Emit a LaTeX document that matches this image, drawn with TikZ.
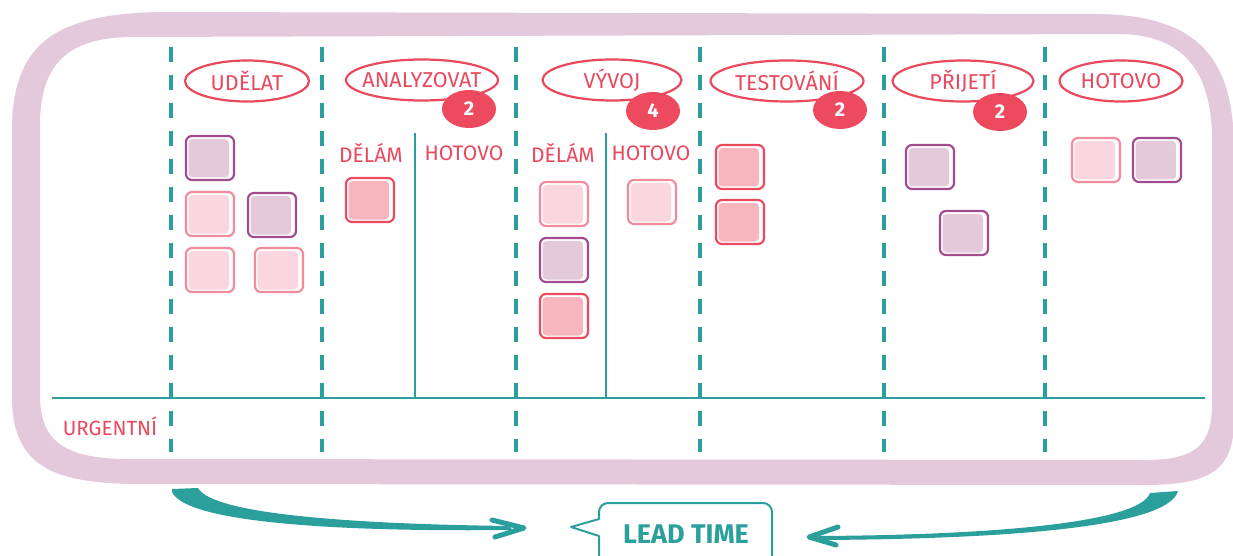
\documentclass[tikz,border=0pt]{standalone}
\usepackage{fontspec}
\setmainfont{Fira Sans}
\usetikzlibrary{shapes.geometric}

\definecolor{tealc}{HTML}{2A9F9C}
\definecolor{redc}{HTML}{E9485D}
\definecolor{badgec}{HTML}{EE4A5F}
\definecolor{lilac}{HTML}{E4C9DD}
\definecolor{purpleline}{HTML}{A24C8E}
\definecolor{purplefill}{HTML}{E4C9DB}
\definecolor{pinkline}{HTML}{F28B9B}
\definecolor{pinkfill}{HTML}{FAD7DE}
\definecolor{redline}{HTML}{EE4A5F}
\definecolor{redfill}{HTML}{F7B5BD}

\tikzset{
  lane/.style={draw=tealc, line width=3.5pt, dash pattern=on 15pt off 13pt},
  divider/.style={draw=tealc, line width=2.2pt},
  stage/.style={ellipse, draw=redc, line width=2.2pt, text=redc,
    font=\fontsize{21.5}{23}\selectfont, inner xsep=-30pt, inner ysep=0pt,
    minimum height=41pt},
  badge/.style={ellipse, fill=badgec, text=white, inner sep=0pt,
    minimum width=54pt, minimum height=38pt, font=\bfseries\fontsize{20}{22}\selectfont},
  sublabel/.style={text=redc, font=\fontsize{21}{23}\selectfont, inner sep=0pt},
  cardbase/.style={rectangle, rounded corners=6pt, minimum width=48pt,
    minimum height=44pt, line width=2.2pt, fill=white, inner sep=0pt},
  cardfill/.style={path picture={\fill[#1, rounded corners=4pt]
    ([shift={(2.5pt,2.5pt)}]path picture bounding box.south west) rectangle
    ([shift={(-5pt,-3pt)}]path picture bounding box.north east);}},
  cardpurple/.style={cardbase, draw=purpleline, cardfill=purplefill},
  cardpink/.style={cardbase, draw=pinkline, cardfill=pinkfill},
  cardred/.style={cardbase, draw=redline, cardfill=redfill},
  brush/.style={fill=tealc},
  chevron/.style={draw=tealc, line width=5pt, line cap=round, line join=round},
}

\begin{document}
\begin{tikzpicture}[x=1pt,y=-1pt]
\useasboundingbox (0,0) rectangle (1233,556);
\clip (0,0) rectangle (1233,556);

% the board's soft lilac frame
\fill[lilac, even odd rule]
  (12,250) -- (12,130) .. controls (12,40) and (60,14) .. (160,12)
  -- (1100,14) .. controls (1200,16) and (1234,60) .. (1234,150)
  -- (1234,420) .. controls (1234,470) and (1210,484) .. (1150,485)
  -- (130,484) .. controls (60,482) and (13,470) .. (12,400) -- cycle
  (40,250) -- (40,125) .. controls (40,62) and (70,38) .. (130,37)
  -- (1120,34) .. controls (1182,35) and (1212,70) .. (1212,140)
  -- (1212,405) .. controls (1212,445) and (1195,459) .. (1150,460)
  -- (120,459) .. controls (70,457) and (42,445) .. (40,400) -- cycle;

% column separators
\foreach \x in {171,322,516,700,884,1045}
  \draw[lane] (\x,47) -- (\x,452);

% urgent lane and sub-column dividers
\draw[divider] (52,398) -- (1205,398);
\draw[divider] (415,133) -- (415,398);
\draw[divider] (606,133) -- (606,398);

% stage headers
\node[stage, minimum width=124pt] (udelat) at (247,81) {UDĚLAT};
\node[stage, minimum width=152pt] (analyzovat) at (422,80) {ANALYZOVAT};
\node[stage, minimum width=139pt] (vyvoj) at (612,80) {VÝVOJ};
\node[stage, minimum width=153pt] (testovani) at (787,81) {TESTOVÁNÍ};
\node[stage, minimum width=141pt] (prijeti) at (963,81) {PŘIJETÍ};
\node[stage, minimum width=123pt] (hotovo) at (1121,81) {HOTOVO};

% WIP limits
\node[badge] (limA) at (469,109) {2};
\node[badge] (limV) at (653,111) {4};
\node[badge] (limT) at (840,110) {2};
\node[badge] (limP) at (1000,112) {2};

% sub-column labels
\node[sublabel] (adelam) at (371,153) {DĚLÁM};
\node[sublabel] (ahotovo) at (464,153) {HOTOVO};
\node[sublabel] (vdelam) at (563,153) {DĚLÁM};
\node[sublabel] (vhotovo) at (651,153) {HOTOVO};
\node[sublabel, font=\fontsize{20.5}{22}\selectfont] (urgent) at (110,426) {URGENTNÍ};

% cards
\node[cardpurple] (u1) at (210,158) {};
\node[cardpink]   (u2) at (210,214) {};
\node[cardpurple] (u3) at (272,215) {};
\node[cardpink]   (u4) at (210,270) {};
\node[cardpink]   (u5) at (279,270) {};
\node[cardred]    (a1) at (370,200) {};
\node[cardpink]   (v1) at (564,204) {};
\node[cardpurple] (v2) at (564,260) {};
\node[cardred]    (v3) at (564,316) {};
\node[cardpink]   (v4) at (652,202) {};
\node[cardred]    (t1) at (740,167) {};
\node[cardred]    (t2) at (740,222) {};
\node[cardpurple] (p1) at (930,167) {};
\node[cardpurple] (p2) at (964,233) {};
\node[cardpink]   (h1) at (1096,160) {};
\node[cardpurple] (h2) at (1157,160) {};

% lead time callout
\node[text=tealc, font=\bfseries\fontsize{27}{29}\selectfont, inner sep=0pt]
  (lead) at (686,534) {LEAD TIME};
\draw[tealc, line width=2pt, line join=round]
  (599,562) -- (599,536) -- (571,527) -- (599,519)
  [rounded corners=9pt] -- (599,503) -- (772,503) -- (772,562);

% arrows pointing at the callout
\coordinate (ltip) at (524,528);
\coordinate (rtip) at (809,537);
\fill[brush]
  (172,489) -- (198,488) .. controls (212,514) and (350,524) .. (510,526)
  -- (512,530) .. controls (330,532) and (186,522) .. (172,492) -- cycle;
\draw[chevron] (492,520) -- (ltip) -- (495,537);
\fill[brush]
  (1150,493) -- (1178,491) .. controls (1168,528) and (1000,539) .. (820,540)
  -- (818,536) .. controls (1000,535) and (1140,522) .. (1150,493) -- cycle;
\draw[chevron] (838,527) -- (rtip) -- (836,545);
\end{tikzpicture}
\end{document}
